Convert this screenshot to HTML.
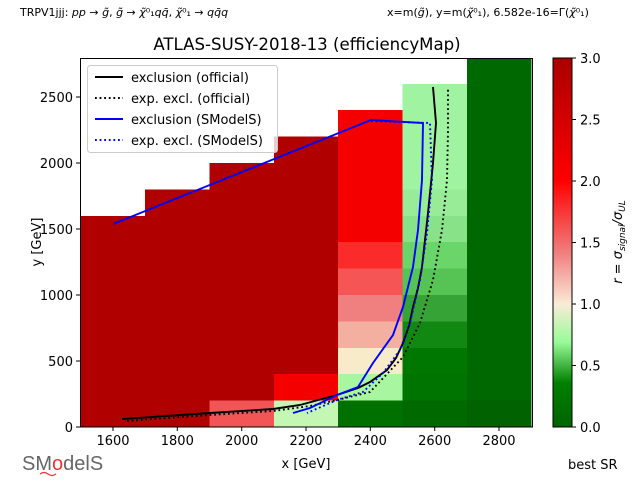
<!DOCTYPE html>
<html><head><meta charset="utf-8"><style>
body{margin:0;background:#fff;width:640px;height:480px;overflow:hidden;font-family:"Liberation Sans","DejaVu Sans",sans-serif}
</style></head><body>
<svg width="640" height="480" xmlns="http://www.w3.org/2000/svg" font-family="DejaVu Sans, Liberation Sans, sans-serif">
<defs>
<linearGradient id="cb" x1="0" y1="1" x2="0" y2="0">
<stop offset="0" stop-color="#006400"/>
<stop offset="0.12" stop-color="#008000"/>
<stop offset="0.23" stop-color="#98fb98"/>
<stop offset="0.333" stop-color="#faebd7"/>
<stop offset="0.47" stop-color="#f08080"/>
<stop offset="0.667" stop-color="#ff0000"/>
<stop offset="1" stop-color="#aa0000"/>
</linearGradient>
</defs>
<text x="20" y="16" font-size="11">TRPV1jjj: <tspan font-style="italic">pp</tspan> → <tspan font-style="italic">g̃</tspan>, <tspan font-style="italic">g̃</tspan> → <tspan font-style="italic">χ̃</tspan>⁰₁<tspan font-style="italic">qq̄</tspan>, <tspan font-style="italic">χ̃</tspan>⁰₁ → <tspan font-style="italic">qq̄q</tspan></text>
<text x="387" y="16" font-size="11">x=m(<tspan font-style="italic">g̃</tspan>), y=m(<tspan font-style="italic">χ̃</tspan>⁰₁), 6.582e-16=Γ(<tspan font-style="italic">χ̃</tspan>⁰₁)</text>
<text x="307" y="50" font-size="16.6" text-anchor="middle">ATLAS-SUSY-2018-13 (efficiencyMap)</text>
<g shape-rendering="crispEdges">
<rect x="80.8" y="215.8" width="64.4" height="211.2" fill="#b00000"/>
<rect x="145.2" y="189.4" width="64.3" height="237.6" fill="#b00000"/>
<rect x="209.5" y="163" width="64.4" height="237.6" fill="#b00000"/>
<rect x="209.5" y="400.6" width="64.4" height="26.4" fill="#f25555"/>
<rect x="273.9" y="136.6" width="64.3" height="237.6" fill="#b00000"/>
<rect x="273.9" y="374.2" width="64.3" height="26.4" fill="#f50000"/>
<rect x="273.9" y="400.6" width="64.3" height="26.4" fill="#c4f7b4"/>
<rect x="338.2" y="110.2" width="64.4" height="290.4" fill="#f50000"/>
<rect x="338.2" y="242.2" width="64.4" height="26.4" fill="#fb2b2b"/>
<rect x="338.2" y="268.6" width="64.4" height="26.4" fill="#f55555"/>
<rect x="338.2" y="295" width="64.4" height="26.4" fill="#f08080"/>
<rect x="338.2" y="321.4" width="64.4" height="26.4" fill="#f3b0a0"/>
<rect x="338.2" y="347.8" width="64.4" height="26.4" fill="#f7ebc9"/>
<rect x="338.2" y="374.2" width="64.4" height="26.4" fill="#a8f7a0"/>
<rect x="338.2" y="400.6" width="64.4" height="26.4" fill="#007000"/>
<rect x="402.6" y="83.8" width="64.3" height="105.6" fill="#a0f3a0"/>
<rect x="402.6" y="189.4" width="64.3" height="26.4" fill="#98ec98"/>
<rect x="402.6" y="215.8" width="64.3" height="26.4" fill="#88e288"/>
<rect x="402.6" y="242.2" width="64.3" height="26.4" fill="#6ad66a"/>
<rect x="402.6" y="268.6" width="64.3" height="26.4" fill="#55c455"/>
<rect x="402.6" y="295" width="64.3" height="26.4" fill="#36a336"/>
<rect x="402.6" y="321.4" width="64.3" height="26.4" fill="#118811"/>
<rect x="402.6" y="347.8" width="64.3" height="26.4" fill="#007800"/>
<rect x="402.6" y="374.2" width="64.3" height="26.4" fill="#007400"/>
<rect x="402.6" y="400.6" width="64.3" height="26.4" fill="#006a00"/>
<rect x="466.9" y="58" width="64.4" height="369" fill="#006800"/>
<rect x="466.9" y="400.6" width="64.4" height="26.4" fill="#006200"/>
</g>
<polyline fill="none" stroke="#000" stroke-width="1.9" points="122,419 210,413 273,409 300,405 337,395 358,388 370,382 387,370 396,358 403,343 409,326 413,307 418,288 422,267 428,213 433,163 436,123 433,87"/>
<polyline fill="none" stroke="#000" stroke-width="1.9" stroke-dasharray="1.8,2.8" points="127,421 210,415 273,411 310,406 337,400 370,392 403,357 420,323 433,280 442,230 447,180 448,130 448,87"/>
<polyline fill="none" stroke="#0000ff" stroke-width="1.9" points="113,224 371,120 423,123 422,180 418,230 413,267 403,307 393,335 373,363 358,387 337,395 310,408 293,413"/>
<polyline fill="none" stroke="#0000ff" stroke-width="1.9" stroke-dasharray="1.8,2.8" points="371,121 430,123 432,180 427,233 420,280 410,323 400,350 383,373 363,392 337,400 307,413"/>
<rect x="80.5" y="58.5" width="452" height="368.5" fill="none" stroke="#000" stroke-width="1"/>
<rect x="87.5" y="65.5" width="190" height="87" rx="3" fill="#fff" fill-opacity="0.8" stroke="#ccc"/>
<g font-size="13">
<line x1="95" y1="77" x2="123" y2="77" stroke="#000" stroke-width="1.9"/><text x="131" y="82">exclusion (official)</text>
<line x1="95" y1="98" x2="123" y2="98" stroke="#000" stroke-width="1.9" stroke-dasharray="1.8,2.8"/><text x="131" y="103">exp. excl. (official)</text>
<line x1="95" y1="119" x2="123" y2="119" stroke="#00f" stroke-width="1.9"/><text x="131" y="124">exclusion (SModelS)</text>
<line x1="95" y1="140" x2="123" y2="140" stroke="#00f" stroke-width="1.9" stroke-dasharray="1.8,2.8"/><text x="131" y="145">exp. excl. (SModelS)</text>
</g>
<g stroke="#000" stroke-width="1">
<line x1="113" y1="427" x2="113" y2="431"/><line x1="177.3" y1="427" x2="177.3" y2="431"/><line x1="241.7" y1="427" x2="241.7" y2="431"/><line x1="306" y1="427" x2="306" y2="431"/><line x1="370.3" y1="427" x2="370.3" y2="431"/><line x1="434.7" y1="427" x2="434.7" y2="431"/><line x1="499" y1="427" x2="499" y2="431"/>
<line x1="76" y1="427" x2="80" y2="427"/><line x1="76" y1="361" x2="80" y2="361"/><line x1="76" y1="295" x2="80" y2="295"/><line x1="76" y1="229" x2="80" y2="229"/><line x1="76" y1="163" x2="80" y2="163"/><line x1="76" y1="97" x2="80" y2="97"/>
</g>
<g font-size="13" text-anchor="middle">
<text x="113" y="445">1600</text><text x="177.3" y="445">1800</text><text x="241.7" y="445">2000</text><text x="306" y="445">2200</text><text x="370.3" y="445">2400</text><text x="434.7" y="445">2600</text><text x="499" y="445">2800</text>
<text x="306" y="468">x [GeV]</text>
</g>
<g font-size="13" text-anchor="end">
<text x="73" y="432">0</text><text x="73" y="366">500</text><text x="73" y="300">1000</text><text x="73" y="234">1500</text><text x="73" y="168">2000</text><text x="73" y="102">2500</text>
</g>
<text transform="translate(41,242) rotate(-90)" font-size="13" text-anchor="middle">y [GeV]</text>
<rect x="553" y="58" width="19" height="369" fill="url(#cb)" stroke="#000" stroke-width="1"/>
<g stroke="#000"><line x1="572" y1="58" x2="576" y2="58"/><line x1="572" y1="119.5" x2="576" y2="119.5"/><line x1="572" y1="181" x2="576" y2="181"/><line x1="572" y1="242.5" x2="576" y2="242.5"/><line x1="572" y1="304" x2="576" y2="304"/><line x1="572" y1="365.5" x2="576" y2="365.5"/><line x1="572" y1="427" x2="576" y2="427"/></g>
<g font-size="13"><text x="580" y="63">3.0</text><text x="580" y="124.5">2.5</text><text x="580" y="186">2.0</text><text x="580" y="247.5">1.5</text><text x="580" y="309">1.0</text><text x="580" y="370.5">0.5</text><text x="580" y="432">0.0</text></g>
<text transform="translate(622,242) rotate(-90)" font-size="13" text-anchor="middle" font-style="italic">r = σ<tspan font-size="9" dy="3">signal</tspan><tspan dy="-3">/σ</tspan><tspan font-size="9" dy="3">UL</tspan></text>
<text x="568" y="469" font-size="13">best SR</text>
<text x="22" y="470" font-size="20" fill="#666" font-family="Liberation Sans, sans-serif">SM<tspan fill="#e33">o</tspan>delS</text>
<path d="M40 474 q4 -3 8 0 t8 0" fill="none" stroke="#e33" stroke-width="1.2"/>
</svg>
</body></html>
